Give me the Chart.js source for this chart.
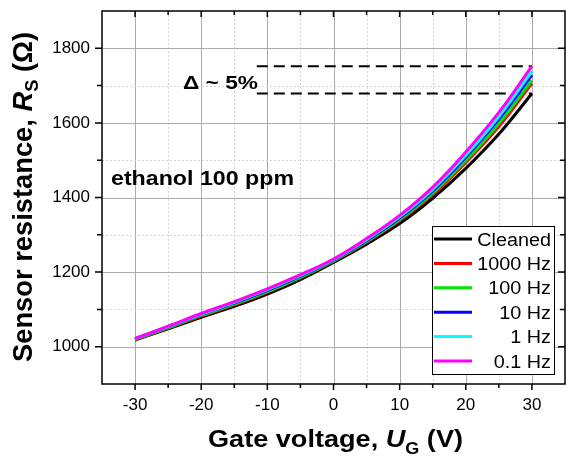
<!DOCTYPE html>
<html>
<head>
<meta charset="utf-8">
<script src="https://cdn.jsdelivr.net/npm/chart.js@4.4.1/dist/chart.umd.min.js"></script>
<style>
  html, body { margin: 0; padding: 0; background: #fff; }
  #wrap { width: 566px; height: 461px; }
</style>
</head>
<body>
<div id="wrap"><canvas id="myChart" width="566" height="461"></canvas></div>
<script>
// gate voltage (V) and sensor resistance (Ohm)
const gateVoltage = [-30, -25, -20, -15, -10, -5, 0, 5, 10, 15, 20, 25, 30];
const cleaned = [1018, 1048, 1079, 1108, 1141, 1180, 1226, 1275, 1330, 1398, 1478, 1570, 1679];
const hz1000 = [1019, 1050, 1082, 1112, 1146, 1185, 1229, 1280, 1338, 1408, 1494, 1590, 1706];
const hz100 = [1020, 1051, 1084, 1114, 1148, 1186, 1230, 1282, 1341, 1412, 1499, 1598, 1714];
const hz10 = [1021, 1053, 1086, 1117, 1151, 1189, 1232, 1285, 1345, 1418, 1508, 1610, 1728];
const hz1 = [1021, 1054, 1087, 1119, 1153, 1191, 1233, 1287, 1348, 1422, 1513, 1617, 1738];
const hz01 = [1022, 1055, 1089, 1121, 1155, 1193, 1235, 1290, 1352, 1428, 1522, 1628, 1752];

const seriesNames = ['Cleaned', '1000 Hz', '100 Hz', '10 Hz', '1 Hz', '0.1 Hz'];
const seriesColors = ['#000000', '#ff0000', '#00e600', '#0000ff', '#00ffff', '#ff00ff'];
const seriesValues = [cleaned, hz1000, hz100, hz10, hz1, hz01];

// the two dashed marker levels of the "delta ~ 5%" note
const deltaLevels = [1752, 1679];
const deltaFrom = -11.6;

const xTickLabels = [-30, -20, -10, 0, 10, 20, 30];
const yTickLabels = [1000, 1200, 1400, 1600, 1800];

const ctx = document.getElementById('myChart').getContext('2d');

const datasets = seriesValues.map((vals, i) => ({
    label: seriesNames[i],
    data: gateVoltage.map((v, j) => ({ x: v, y: vals[j] })),
    borderColor: seriesColors[i],
    borderWidth: 3,
    pointRadius: 0,
    tension: 0.4,
    order: seriesValues.length - i
}));
deltaLevels.forEach(lvl => {
    datasets.push({
        label: '',
        data: [{ x: deltaFrom, y: lvl }, { x: 30, y: lvl }],
        borderColor: '#000',
        borderWidth: 2,
        borderDash: [11, 6],
        pointRadius: 0,
        order: 20
    });
});

const tickFont = { family: '"Liberation Sans", Arial, sans-serif', size: 17 };

function drawRich(c, parts, x, y, width) {
    let w = 0;
    parts.forEach(p => { c.font = p[1]; w += c.measureText(p[0]).width; });
    c.save();
    c.translate(x, y);
    c.scale(width / w, 1);
    let cx = 0;
    parts.forEach(p => {
        c.font = p[1];
        c.fillText(p[0], cx, p[2] || 0);
        cx += c.measureText(p[0]).width;
    });
    c.restore();
}

const F = '"Liberation Sans", Arial, sans-serif';

const frame = {
    id: 'frame',
    beforeDatasetsDraw(chart) {
        const c = chart.ctx;
        const a = chart.chartArea;
        const { x, y } = chart.scales;
        c.save();
        c.lineWidth = 1;
        x.ticks.forEach(t => {
            if (Math.abs(t.value) === 35) return;
            const px = Math.round(x.getPixelForValue(t.value)) + 0.5;
            const major = t.value % 10 === 0;
            c.strokeStyle = major ? '#ababab' : '#d4d4d4';
            c.setLineDash(major ? [] : [2, 2]);
            c.beginPath(); c.moveTo(px, a.top); c.lineTo(px, a.bottom); c.stroke();
        });
        y.ticks.forEach(t => {
            if (t.value === 900 || t.value === 1900) return;
            const py = Math.round(y.getPixelForValue(t.value)) + 0.5;
            const major = t.value % 200 === 0;
            c.strokeStyle = major ? '#ababab' : '#d4d4d4';
            c.setLineDash(major ? [] : [2, 2]);
            c.beginPath(); c.moveTo(a.left, py); c.lineTo(a.right, py); c.stroke();
        });
        c.restore();
    },
    afterDatasetsDraw(chart) {
        const c = chart.ctx;
        const a = chart.chartArea;
        const { x, y } = chart.scales;
        c.save();
        c.strokeStyle = '#000';
        c.fillStyle = '#000';
        c.lineWidth = 1.5;
        c.strokeRect(a.left, a.top, a.right - a.left, a.bottom - a.top);

        // tick marks: outward on left/bottom, inward on top/right
        x.ticks.forEach(t => {
            if (Math.abs(t.value) === 35) return;
            const px = x.getPixelForValue(t.value);
            const len = t.value % 10 === 0 ? 6 : 4;
            c.beginPath();
            c.moveTo(px, a.bottom); c.lineTo(px, a.bottom + len);
            c.moveTo(px, a.top); c.lineTo(px, a.top + len);
            c.stroke();
        });
        y.ticks.forEach(t => {
            if (t.value === 900 || t.value === 1900) return;
            const py = y.getPixelForValue(t.value);
            const len = t.value % 200 === 0 ? 7 : 5;
            c.beginPath();
            c.moveTo(a.left, py); c.lineTo(a.left - len, py);
            c.moveTo(a.right, py); c.lineTo(a.right - len, py);
            c.stroke();
        });

        // legend box
        const lx = 432, ly = 226, lw = 122, lh = 148;
        c.fillStyle = '#fff';
        c.fillRect(lx, ly, lw, lh);
        c.lineWidth = 1;
        c.strokeStyle = '#000';
        c.strokeRect(lx + 0.5, ly + 0.5, lw, lh);
        seriesNames.forEach((name, i) => {
            const ry = 239 + i * 24.4;
            c.strokeStyle = seriesColors[i];
            c.lineWidth = 3;
            c.beginPath(); c.moveTo(434, ry); c.lineTo(472, ry); c.stroke();
            c.fillStyle = '#000';
            c.font = '18px ' + F;
            const w = c.measureText(name).width * 1.1;
            drawRich(c, [[name, '18px ' + F]], 551 - w, ry + 6.5, w);
        });

        // notes inside the plot
        c.fillStyle = '#000';
        drawRich(c, [['ethanol 100 ppm', 'bold 21px ' + F]], 111, 185, 183);
        drawRich(c, [['\u0394 ~ 5%', 'bold 18px ' + F]], 183, 89, 75);

        // axis titles
        drawRich(c, [
            ['Gate voltage, ', 'bold 24px ' + F],
            ['U', 'italic bold 24px ' + F],
            ['G', 'bold 16px ' + F, 7],
            [' (V)', 'bold 24px ' + F]
        ], 208, 447, 255);
        c.save();
        c.translate(32, 362);
        c.rotate(-Math.PI / 2);
        drawRich(c, [
            ['Sensor resistance, ', 'bold 27px ' + F],
            ['R', 'italic bold 27px ' + F],
            ['S', 'bold 18px ' + F, 6],
            [' (\u03A9)', 'bold 27px ' + F]
        ], 0, 0, 330);
        c.restore();
        c.restore();
    }
};

const chart = new Chart(ctx, {
    type: 'line',
    data: { datasets: datasets },
    options: {
        responsive: false,
        animation: false,
        layout: { padding: { top: 11, right: 1, left: 0, bottom: 0 } },
        plugins: { legend: { display: false }, tooltip: { enabled: false } },
        scales: {
            x: {
                type: 'linear',
                min: -35,
                max: 35,
                grid: { display: false, drawTicks: false },
                border: { display: false },
                ticks: {
                    stepSize: 5,
                    autoSkip: false,
                    maxRotation: 0,
                    padding: 11,
                    color: '#000',
                    font: tickFont,
                    callback: v => (xTickLabels.includes(v) ? String(v) : '')
                },
                afterFit: s => { s.height = 77; s.paddingLeft = 0; s.paddingRight = 0; }
            },
            y: {
                type: 'linear',
                min: 900,
                max: 1900,
                grid: { display: false, drawTicks: false },
                border: { display: false },
                ticks: {
                    stepSize: 100,
                    autoSkip: false,
                    padding: 12,
                    color: '#000',
                    font: tickFont,
                    callback: v => (yTickLabels.includes(v) ? String(v) : '')
                },
                afterFit: s => { s.width = 102; s.paddingTop = 0; s.paddingBottom = 0; }
            }
        }
    },
    plugins: [frame]
});
</script>
</body>
</html>
